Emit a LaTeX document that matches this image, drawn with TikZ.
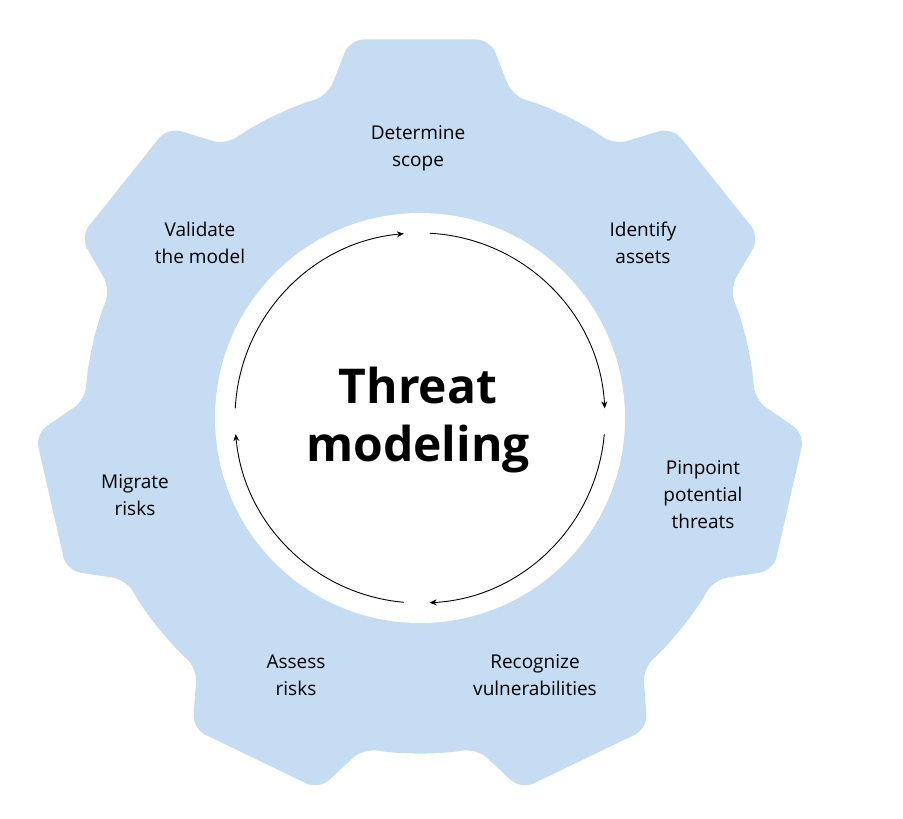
\documentclass[tikz,border=0pt]{standalone}
\usepackage{fontspec}
\setmainfont{Open Sans}
\usetikzlibrary{arrows.meta}
\begin{document}
\begin{tikzpicture}[x=1pt,y=1pt,
  lbl/.style={align=center,font=\fontsize{19}{27}\selectfont,text=black},
  cyc/.style={line width=0.9pt,-{Stealth[length=7pt,width=6pt]}}]
\useasboundingbox (0,0) rectangle (903,-819);
\definecolor{gearblue}{HTML}{C5DCF2}
\begin{scope}[shift={(420,-418)}]
\fill[gearblue,rounded corners=14pt] (115.7:335pt) arc[start angle=115.7,end angle=106,radius=335pt]
 \foreach \i in {0,...,6}{
   -- ({90-51.4286*\i+10.5}:385pt) -- ({90-51.4286*\i-10.5}:385pt) -- ({90-51.4286*\i-16}:335pt)
   arc[start angle={90-51.4286*\i-16},end angle={90-51.4286*(\i+1)+16},radius=335pt]
 } arc[start angle=-254,end angle=-244.3,radius=335pt];
\fill[white] (0,0) circle[radius=205pt];
\draw[cyc] (87:185pt) arc[start angle=87,end angle=3,radius=185pt];
\draw[cyc] (-5:185pt) arc[start angle=-5,end angle=-87,radius=185pt];
\draw[cyc] (-95:185pt) arc[start angle=-95,end angle=-175,radius=185pt];
\draw[cyc] (177:185pt) arc[start angle=177,end angle=95,radius=185pt];
\end{scope}
\node[align=center,font=\fontsize{48}{58}\selectfont\bfseries] (t) at (418,-420) {Threat\\modeling};
\node[lbl] (a) at (418,-148) {Determine\\scope};
\node[lbl] (b) at (643,-243) {Identify\\assets};
\node[lbl] (d) at (703,-495) {Pinpoint\\potential\\threats};
\node[lbl] (e) at (535,-675) {Recognize\\vulnerabilities};
\node[lbl] (f) at (296,-675) {Assess\\risks};
\node[lbl] (g) at (135,-495) {Migrate\\risks};
\node[lbl] (h) at (200,-243) {Validate\\the model};
\end{tikzpicture}
\end{document}
